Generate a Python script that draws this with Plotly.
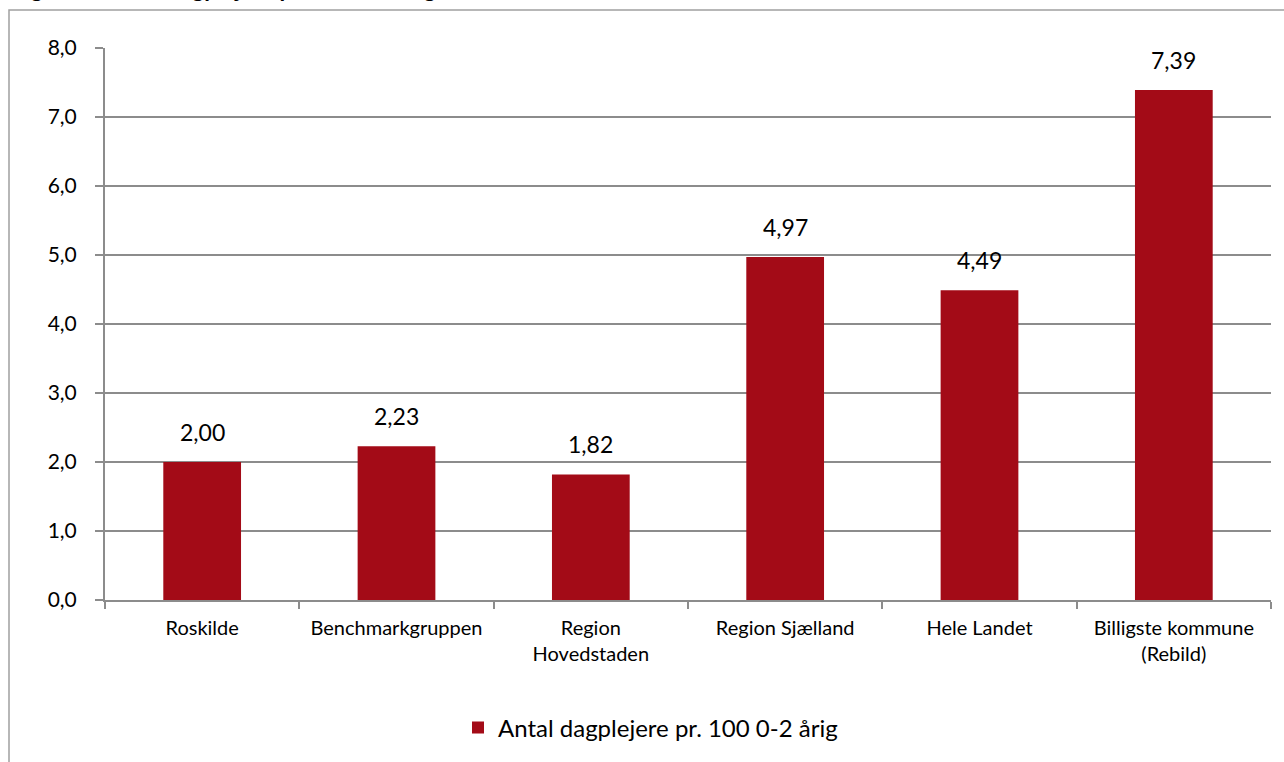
import plotly.graph_objects as go

# data
categories = ["Roskilde", "Benchmarkgruppen", "Region Hovedstaden",
              "Region Sjælland", "Hele Landet", "Billigste kommune (Rebild)"]
tick_labels = ["Roskilde", "Benchmarkgruppen", "Region<br>Hovedstaden",
               "Region Sjælland", "Hele Landet", "Billigste kommune<br>(Rebild)"]
values = [2.00, 2.23, 1.82, 4.97, 4.49, 7.39]
series_name = "Antal dagplejere pr. 100 0-2 årig"
title_text = "Figur 13: Antal dagplejere pr. 100 0-2 årige"

W, H = 1284, 762
L, R, T, B = 105, 13, 48, 162
pw, ph = W - L - R, H - T - B


def px_x(x):
    return (x - L) / pw


def px_y(y):
    return (H - B - y) / ph


FONT = "Lato"
BAR = "#A30B17"
GRID = "#8c8c8c"

fig = go.Figure(go.Bar(
    x=categories, y=values, name=series_name,
    marker=dict(color=BAR, line=dict(width=0)),
    showlegend=True,
))

# value labels above bars
for c, v in zip(categories, values):
    fig.add_annotation(x=c, y=v, text=f"{v:.2f}".replace(".", ","),
                       showarrow=False, yanchor="bottom", yshift=14,
                       font=dict(family=FONT, size=23, color="#000000"))

# title, mostly cut off at the top of the picture (only descenders show)
fig.add_annotation(xref="paper", yref="paper", x=px_x(10), y=px_y(4),
                   xanchor="left", yanchor="bottom", showarrow=False,
                   text="<b>" + title_text + "</b>",
                   font=dict(family=FONT, size=23, color="#000000"))

# chart frame
fig.add_shape(type="rect", xref="paper", yref="paper",
              x0=px_x(9), y0=px_y(10), x1=px_x(W + 20), y1=px_y(H + 20),
              line=dict(color="#a0a0a0", width=1.5), layer="below")

fig.update_layout(
    width=W, height=H,
    margin=dict(l=L, r=R, t=T, b=B, autoexpand=False),
    paper_bgcolor="white", plot_bgcolor="white",
    separators=",.",
    bargap=0.6,
    font=dict(family=FONT, size=20, color="#000000"),
    legend=dict(orientation="h", x=px_x(458), xanchor="left",
                y=px_y(728), yanchor="middle",
                font=dict(family=FONT, size=24)),
    xaxis=dict(tickmode="array", tickvals=categories, ticktext=tick_labels,
               tickson="boundaries", ticks="outside", ticklen=7,
               tickwidth=2, tickcolor=GRID, showline=True, linecolor=GRID,
               linewidth=2, ticklabelstandoff=9,
               tickfont=dict(family=FONT, size=20)),
    yaxis=dict(range=[0, 8], dtick=1, tickformat=".1f", showgrid=True,
               gridcolor=GRID, gridwidth=2, showline=True, linecolor=GRID,
               linewidth=2, ticks="outside", ticklen=8, tickwidth=2,
               tickcolor=GRID, ticklabelstandoff=14, zeroline=False,
               tickfont=dict(family=FONT, size=21)),
)

fig.write_html("out.html", config={"displayModeBar": False},
               post_script="document.body.style.margin='0';")
